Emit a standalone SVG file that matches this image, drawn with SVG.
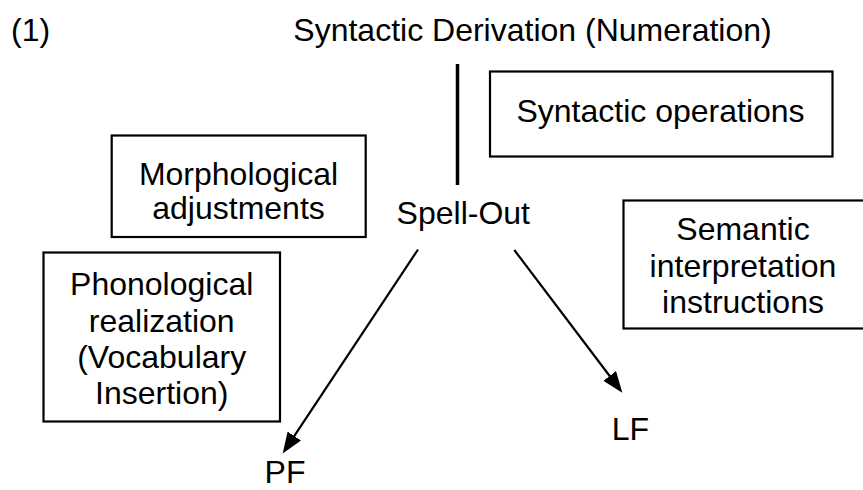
<svg xmlns="http://www.w3.org/2000/svg" width="863" height="490" viewBox="0 0 863 490">
  <style>
    text { font-family: "Liberation Sans", Arial, sans-serif; font-size: 32px; fill: #000; }
    .c { text-anchor: middle; }
    .box { fill: #fff; stroke: #000; stroke-width: 2.2; }
    .arrow { stroke: #000; stroke-width: 2.2; fill: none; marker-end: url(#ah); }
  </style>
  <defs>
    <marker id="ah" markerUnits="userSpaceOnUse" markerWidth="24" markerHeight="18" refX="17" refY="8" orient="auto">
      <path d="M0,0 L21,8 L0,16 z" fill="#000"/>
    </marker>
  </defs>
  <rect width="863" height="490" fill="#fff"/>

  <g id="label-1">
    <text x="11" y="41">(1)</text>
  </g>
  <g id="title">
    <text class="c" x="532.5" y="41">Syntactic Derivation (Numeration)</text>
  </g>
  <g id="syntactic-operations">
    <rect class="box" x="490" y="71.5" width="342.5" height="85"/>
    <text class="c" x="660.5" y="122">Syntactic operations</text>
  </g>
  <g id="morphological">
    <rect class="box" x="111.7" y="135.5" width="254" height="101.5"/>
    <text class="c" x="238.5" y="185">Morphological</text>
    <text class="c" x="238.5" y="218.5">adjustments</text>
  </g>
  <g id="spell-out">
    <text class="c" x="463.3" y="224">Spell-Out</text>
  </g>
  <g id="semantic">
    <rect class="box" x="623.5" y="200.5" width="242" height="128"/>
    <text class="c" x="743" y="240">Semantic</text>
    <text class="c" x="743" y="277">interpretation</text>
    <text class="c" x="743" y="313">instructions</text>
  </g>
  <g id="phonological">
    <rect class="box" x="43.5" y="252.5" width="236.5" height="169"/>
    <text class="c" x="161.7" y="295">Phonological</text>
    <text class="c" x="161.7" y="332">realization</text>
    <text class="c" x="161.7" y="368">(Vocabulary</text>
    <text class="c" x="161.7" y="403.5">Insertion)</text>
  </g>
  <g id="lf">
    <text class="c" x="630.3" y="440">LF</text>
  </g>
  <g id="pf">
    <text class="c" x="285" y="483">PF</text>
  </g>

  <g id="connectors">
    <line x1="457.5" y1="64" x2="457.5" y2="185" stroke="#000" stroke-width="3.5"/>
    <line class="arrow" x1="418" y1="249.5" x2="284.9" y2="450.2"/>
    <line class="arrow" x1="514.3" y1="250" x2="619.9" y2="389.5"/>
  </g>
</svg>
